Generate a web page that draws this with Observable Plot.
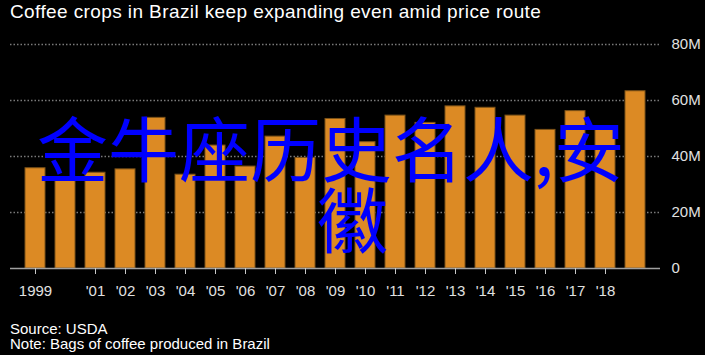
<!DOCTYPE html>
<html>
<head>
<meta charset="utf-8">
<script src="https://cdn.jsdelivr.net/npm/d3@7"></script>
<script src="https://cdn.jsdelivr.net/npm/@observablehq/plot@0.6"></script>
<style>
  html, body { margin: 0; padding: 0; background: #000; }
  #root { position: relative; width: 705px; height: 355px; background: #000; overflow: hidden;
          font-family: "Liberation Sans", Arial, sans-serif; }
  #title { position: absolute; left: 10px; top: 2px; font-size: 19px; line-height: 19px; letter-spacing: 0.4px;
           color: #fff; white-space: nowrap; }
  #chart { position: absolute; left: 0; top: 30px; }
  #caption { position: absolute; left: 10px; top: 321px; font-size: 15px; line-height: 15px; color: #fff; white-space: nowrap; }
  .overlay { position: absolute; font-family: "Noto Sans CJK SC", sans-serif; font-size: 71px; line-height: 70px;
             color: #0000ff; white-space: nowrap; }
</style>
</head>
<body>
<div id="root">
  <div id="title"></div>
  <div id="chart"></div>
  <div id="caption"></div>
  <div class="overlay" id="ov1"></div>
  <div class="overlay" id="ov2"></div>
</div>
<script>
const titleText = "Coffee crops in Brazil keep expanding even amid price route";
const sourceText = "Source: USDA";
const noteText = "Note: Bags of coffee produced in Brazil";
const overlayLine1 = "金牛座历史名人,安";
const overlayLine2 = "徽";

const years = [1999, 2000, 2001, 2002, 2003, 2004, 2005, 2006, 2007, 2008, 2009,
               2010, 2011, 2012, 2013, 2014, 2015, 2016, 2017, 2018, 2019];
const bags = [35.8, 32.0, 34.2, 35.4, 53.8, 33.5, 43.9, 36.4, 47.1, 39.5, 53.4,
              45.1, 54.6, 52.0, 57.9, 57.4, 54.6, 49.5, 56.2, 50.0, 63.3];
const xTickYears = [1999, 2001, 2002, 2003, 2004, 2005, 2006, 2007, 2008, 2009,
                    2010, 2011, 2012, 2013, 2014, 2015, 2016, 2017, 2018];
const yTicks = [0, 20, 40, 60, 80];
const gridValues = [20, 40, 60, 80];

const data = years.map((year, i) => ({year, bags: bags[i]}));

document.getElementById("title").textContent = titleText;
const s1 = document.createElement("div"); s1.textContent = sourceText;
const s2 = document.createElement("div"); s2.textContent = noteText;
document.getElementById("caption").append(s1, s2);

const chart = Plot.plot({
  width: 705,
  height: 275,
  marginLeft: 10,
  marginRight: 45,
  marginTop: 14,
  marginBottom: 37,
  style: {background: "#000", color: "#ddd", fontFamily: "'Liberation Sans', Arial, sans-serif", fontSize: "15px"},
  x: {type: "band", domain: years, paddingInner: 0.34, paddingOuter: 0.395, align: 0.5},
  y: {domain: [0, 80]},
  marks: [
    Plot.ruleY(gridValues, {stroke: "#7a7a7a", strokeWidth: 1.5, strokeDasharray: "1.5,2"}),
    Plot.barY(data, {x: "year", y: "bags", fill: "#dc8a24", stroke: "#7d5318", strokeWidth: 1, inset: 0}),
    Plot.ruleY([0], {stroke: "#a0a0a0", strokeWidth: 1.5}),
    Plot.axisX({
      ticks: xTickYears,
      tickFormat: d => d === 1999 ? "1999" : "'" + String(d).slice(2),
      tickSize: 6,
      tickPadding: 11,
      stroke: "#c8c8c8",
      fill: "#e0e0e0",
      label: null
    }),
    Plot.axisY({
      anchor: "right",
      ticks: yTicks,
      tickSize: 0,
      tickPadding: 11,
      tickFormat: d => d === 0 ? "0" : d + "M",
      fill: "#e0e0e0",
      label: null
    })
  ]
});
document.getElementById("chart").append(chart);

const ov1 = document.getElementById("ov1");
ov1.textContent = overlayLine1;
ov1.style.left = "37px";
ov1.style.top = "110px";
const ov2 = document.getElementById("ov2");
ov2.textContent = overlayLine2;
ov2.style.left = "317px";
ov2.style.top = "181px";
</script>
</body>
</html>
